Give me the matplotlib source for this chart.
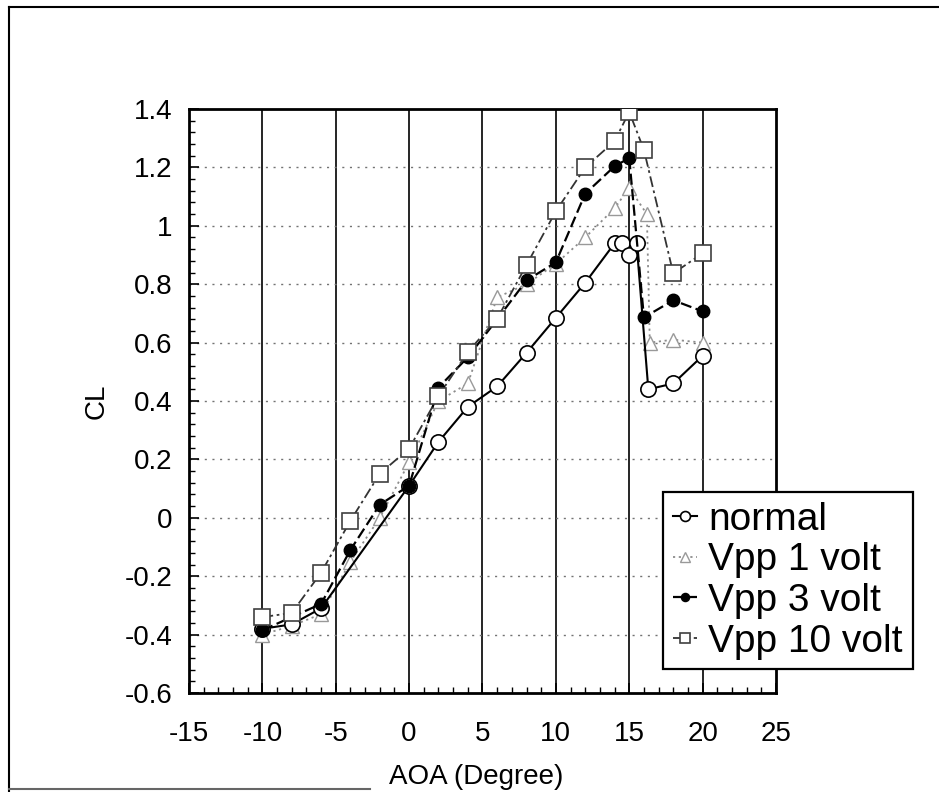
import matplotlib
matplotlib.use("Agg")
import matplotlib.pyplot as plt
from matplotlib.lines import Line2D
from matplotlib.ticker import MultipleLocator

plt.rcParams['font.family'] = ['Liberation Sans', 'DejaVu Sans']

# Lift coefficient vs angle of attack for the different excitation voltages
aoa_normal = [-10, -8, -6, 0, 2, 4, 6, 8, 10, 12, 14, 14.5, 15, 15.5, 16.3, 18, 20]
cl_normal = [-0.38, -0.365, -0.31, 0.11, 0.26, 0.38, 0.45, 0.565, 0.685, 0.805,
             0.94, 0.94, 0.90, 0.94, 0.44, 0.46, 0.555]

aoa_vpp1 = [-10, -8, -6, -4, -2, 0, 2, 4, 6, 8, 10, 12, 14, 15, 16.2, 16.4, 18, 20]
cl_vpp1 = [-0.40, -0.37, -0.33, -0.15, 0.0, 0.19, 0.40, 0.46, 0.755, 0.80, 0.87,
           0.96, 1.06, 1.13, 1.04, 0.60, 0.61, 0.60]

aoa_vpp3 = [-10, -6, -4, -2, 0, 2, 4, 6, 8, 10, 12, 14, 15, 16, 18, 20]
cl_vpp3 = [-0.385, -0.295, -0.11, 0.045, 0.11, 0.446, 0.55, 0.68, 0.813, 0.875,
           1.11, 1.204, 1.232, 0.686, 0.745, 0.707]

aoa_vpp10 = [-10, -8, -6, -4, -2, 0, 2, 4, 6, 8, 10, 12, 14, 15, 16, 18, 20]
cl_vpp10 = [-0.34, -0.326, -0.188, -0.01, 0.151, 0.237, 0.417, 0.568, 0.682, 0.866,
            1.05, 1.2, 1.29, 1.39, 1.26, 0.837, 0.906]

series_labels = ["normal", "Vpp 1 volt", "Vpp 3 volt", "Vpp 10 volt"]

x_ticks = [-15, -10, -5, 0, 5, 10, 15, 20, 25]
x_tick_labels = ["-15", "-10", "-5", "0", "5", "10", "15", "20", "25"]
y_ticks = [-0.6, -0.4, -0.2, 0.0, 0.2, 0.4, 0.6, 0.8, 1.0, 1.2, 1.4]
y_tick_labels = ["-0.6", "-0.4", "-0.2", "0", "0.2", "0.4", "0.6", "0.8", "1", "1.2", "1.4"]

fig = plt.figure(figsize=(9.39, 7.92), dpi=100)
fig.patch.set_facecolor("white")

W, H = 939, 792
ax = fig.add_axes([189 / W, 1 - 693 / H, (776 - 189) / W, (693 - 109) / H])

# grid: solid vertical lines, dotted horizontal lines
for xv in x_ticks[1:-1]:
    ax.axvline(xv, color="black", lw=1.2, zorder=1)
for yv in y_ticks[1:-1]:
    ax.axhline(yv, color="0.45", lw=1.0, ls=(0, (1.5, 4)), zorder=1)

h1, = ax.plot(aoa_vpp1, cl_vpp1, ls=(0, (1.2, 2.0)), color="0.55", lw=1.3,
              marker="^", ms=10, mfc="white", mec="0.6", mew=1.0, zorder=2)
h0, = ax.plot(aoa_normal, cl_normal, ls="-", color="black", lw=1.5,
              marker="o", ms=11, mfc="white", mec="black", mew=1.2, zorder=3)
h3, = ax.plot(aoa_vpp3, cl_vpp3, ls=(0, (5, 2)), color="black", lw=1.6,
              marker="o", ms=9, mfc="black", mec="black", zorder=4)
h10, = ax.plot(aoa_vpp10, cl_vpp10, ls=(0, (6, 2, 1.5, 2)), color="0.2", lw=1.3,
               marker="s", ms=11, mfc="white", mec="0.25", mew=1.2, zorder=5)

ax.set_xlim(-15, 25)
ax.set_ylim(-0.6, 1.4)
ax.set_xticks(x_ticks)
ax.set_xticklabels(x_tick_labels)
ax.set_yticks(y_ticks)
ax.set_yticklabels(y_tick_labels)
ax.xaxis.set_minor_locator(MultipleLocator(1))
ax.yaxis.set_minor_locator(MultipleLocator(0.04))
ax.tick_params(axis="both", which="both", direction="in", top=False, right=False,
               color="black")
ax.tick_params(axis="both", which="major", length=7, width=1.2, labelsize=20)
ax.tick_params(axis="both", which="minor", length=4, width=1.0)
ax.tick_params(axis="x", which="major", pad=20)
ax.tick_params(axis="y", which="major", pad=12)
for sp in ax.spines.values():
    sp.set_linewidth(2.0)
    sp.set_color("black")

fig.text(97 / W, 1 - 401 / H, "CL", rotation=90, ha="center", va="center", fontsize=20)
fig.text(476 / W, 1 - 777 / H, "AOA (Degree)", ha="center", va="center", fontsize=20)

leg = fig.legend([h0, h1, h3, h10], series_labels, loc="upper left",
                 bbox_to_anchor=(663 / W, 1 - 492 / H), bbox_transform=fig.transFigure,
                 fontsize=28, frameon=True, fancybox=False, shadow=False,
                 handlelength=0.62, handletextpad=0.3, labelspacing=0.12,
                 borderpad=0.25, borderaxespad=0.0, markerscale=0.65)
leg.get_frame().set_edgecolor("black")
leg.get_frame().set_linewidth(1.6)
leg.get_frame().set_alpha(1.0)

# outer border around the figure
fig.add_artist(Line2D([9 / W, 1.0], [1 - 7 / H, 1 - 7 / H], transform=fig.transFigure,
                      color="black", lw=1.5))
fig.add_artist(Line2D([9 / W, 9 / W], [0.0, 1 - 7 / H], transform=fig.transFigure,
                      color="black", lw=1.5))
fig.add_artist(Line2D([9 / W, 370 / W], [1 - 789 / H, 1 - 789 / H], transform=fig.transFigure,
                      color="0.4", lw=1.5))

fig.savefig("out.png", dpi=100)
